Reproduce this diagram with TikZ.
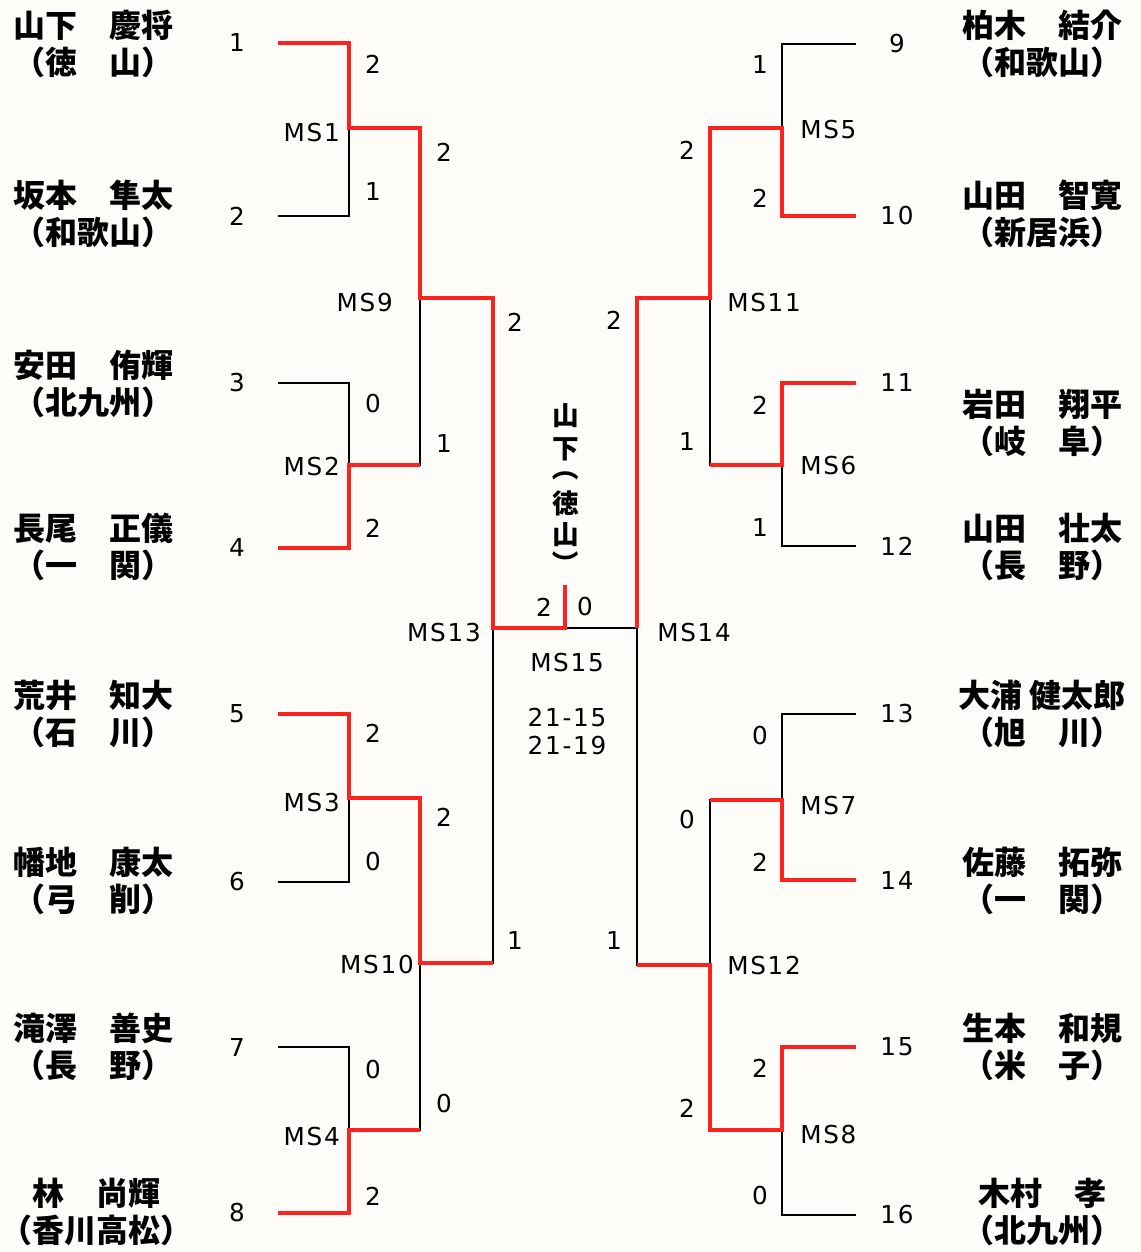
\documentclass[tikz,border=0pt]{standalone}
\usepackage{fontspec}
\newfontfamily\jpfont{Noto Sans CJK JP}
\newfontfamily\numfont[LetterSpace=7]{DejaVu Sans}
\definecolor{winred}{RGB}{250,35,30}
\definecolor{paper}{RGB}{253,252,248}
\begin{document}
\begin{tikzpicture}[x=0.75pt,y=0.75pt,yscale=-1,
  lose/.style={draw=black,line width=1.3pt},
  win/.style={draw=winred,line width=3.7pt},
  num/.style={font=\numfont\fontsize{18.5}{18.5}\selectfont,inner sep=0pt},
  nm/.style={font=\jpfont\bfseries\fontsize{24}{24}\selectfont,inner sep=0pt},
  vt/.style={font=\jpfont\bfseries\fontsize{20}{20}\selectfont,inner sep=0pt}]
\useasboundingbox (0,0) rectangle (1141,1252);
\fill[paper] (0,0) rectangle (1141,1252);

%Seeds, left and right
\foreach \n/\y in {1/43,2/216,3/383,4/548,5/714,6/882,7/1047,8/1213}
  {\coordinate (s\n) at (278,\y); \node[num] (n\n) at (237,\y) {\n};}
\foreach \n/\y in {9/44,10/216,11/383,12/546,13/714,14/880,15/1047,16/1215}
  {\coordinate (s\n) at (856,\y); \node[num] (n\n) at (897,\y) {\n};}

%Match points
\coordinate (MS1) at (349,128);  \coordinate (MS2) at (349,465);
\coordinate (MS3) at (349,798);  \coordinate (MS4) at (349,1130);
\coordinate (MS5) at (782,128);  \coordinate (MS6) at (782,465);
\coordinate (MS7) at (782,800);  \coordinate (MS8) at (782,1130);
\coordinate (MS9) at (420,298);  \coordinate (MS10) at (420,963);
\coordinate (MS11) at (710,298); \coordinate (MS12) at (710,965);
\coordinate (MS13) at (493,628); \coordinate (MS14) at (637,628);
\coordinate (F) at (565,628);    \coordinate (Ftop) at (565,585);

%Bracket lines
\foreach \a/\b in {s1/MS1,s2/MS1,s3/MS2,s4/MS2,s5/MS3,s6/MS3,s7/MS4,s8/MS4,
  s9/MS5,s10/MS5,s11/MS6,s12/MS6,s13/MS7,s14/MS7,s15/MS8,s16/MS8,
  MS1/MS9,MS2/MS9,MS3/MS10,MS4/MS10,MS5/MS11,MS6/MS11,MS7/MS12,MS8/MS12,
  MS9/MS13,MS10/MS13,MS11/MS14,MS12/MS14}
  \draw[lose] (\a) -| (\b);
\draw[lose] (MS13) -- (MS14);

%Winners
\draw[win] (s1) -| (MS1) -| (MS9) -| (MS13) -- (F) -- (Ftop);
\draw[win] (s4) -| (MS2) -- (MS2 -| MS9);
\draw[win] (s5) -| (MS3) -| (MS10) -- (MS10 -| MS13);
\draw[win] (s8) -| (MS4) -- (MS4 -| MS10);
\draw[win] (s10) -| (MS5) -| (MS11) -| (MS14);
\draw[win] (s11) -| (MS6) -- (MS6 -| MS11);
\draw[win] (s14) -| (MS7) -- (MS7 -| MS12);
\draw[win] (s15) -| (MS8) -| (MS12) -- (MS12 -| MS14);

% Scores
\foreach \k/\x/\y/\t in {a/373/64/2,b/373/192/1,c/373/404/0,d/373/528/2,
  e/373/733/2,f/373/862/0,g/373/1070/0,h/373/1196/2,
  i/444/152/2,j/444/444/1,k/444/817/2,l/444/1104/0,
  m/515/322/2,n/515/940/1,
  o/760/65/1,p/760/198/2,q/760/405/2,r/760/528/1,
  s/760/736/0,t/760/862/2,u/760/1068/2,v/760/1196/0,
  w/687/150/2,x/687/442/1,y/687/820/0,z/687/1108/2,
  A/614/320/2,B/614/940/1,C/544/607/2,D/585/607/0}
  \node[num] (sc\k) at (\x,\y) {\t};

% Match labels
\foreach \m/\x/\y in {1/340/133,2/340/467,3/340/803,4/340/1137,
  9/393/303,10/414/965,13/481/633}
  \node[num,anchor=east] (lab\m) at (\x,\y) {MS\m};
\foreach \m/\x/\y in {5/800/130,6/800/466,7/800/806,8/800/1135,
  11/727/303,12/727/966,14/657/633}
  \node[num,anchor=west] (lab\m) at (\x,\y) {MS\m};
\node[num] (lab15) at (567,663) {MS15};
\node[num] (game1) at (567,718) {21-15};
\node[num] (game2) at (567,746) {21-19};

% Champion
\node[vt] (v1) at (566,416) {山};
\node[vt] (v2) at (566,449) {下};
\node[vt,rotate=-90] (v3) at (566,468) {（};
\node[vt] (v4) at (566,503) {徳};
\node[vt] (v5) at (566,535) {山};
\node[vt,rotate=-90] (v6) at (566,564) {）};

% Players
\foreach \k/\x/\y/\p/\c in {1/93/25/山下　慶将/（徳　山）,
  2/93/195/坂本　隼太/（和歌山）,
  3/93/365/安田　侑輝/（北九州）,
  4/93/528/長尾　正儀/（一　関）,
  5/93/695/荒井　知大/（石　川）,
  6/93/862/幡地　康太/（弓　削）,
  7/93/1028/滝澤　善史/（長　野）,
  8/96/1193/林　尚輝/（香川高松）,
  9/1042/25/柏木　結介/（和歌山）,
  10/1042/195/山田　智寛/（新居浜）,
  11/1042/404/岩田　翔平/（岐　阜）,
  12/1042/528/山田　壮太/（長　野）,
  13/1042/695/大浦 健太郎/（旭　川）,
  14/1042/862/佐藤　拓弥/（一　関）,
  15/1042/1028/生本　和規/（米　子）,
  16/1042/1193/木村　孝/（北九州）}
  {\node[nm] (pl\k) at (\x,\y) {\p};
   \node[nm] (cl\k) at (\x,\y+37) {\c};}

\end{tikzpicture}
\end{document}
